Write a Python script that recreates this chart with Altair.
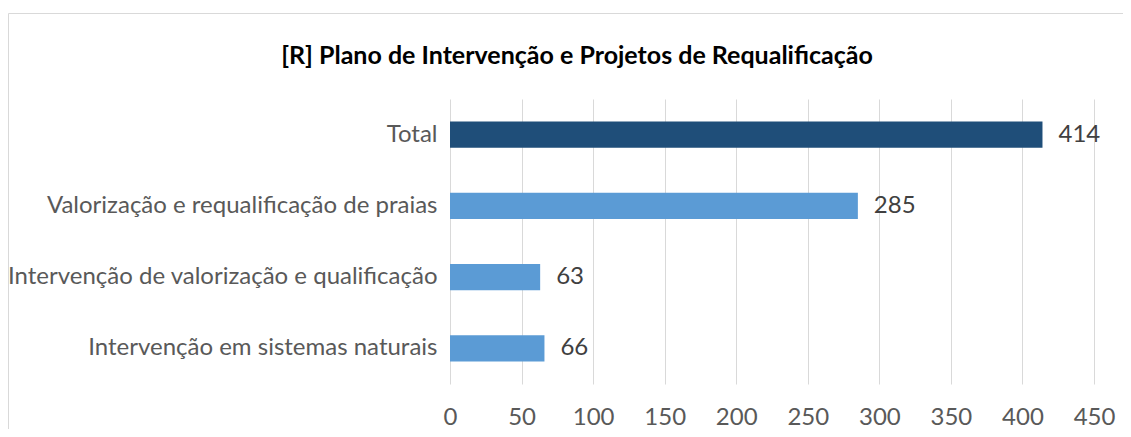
import altair as alt
import pandas as pd

categories = [
    "Total",
    "Valorização e requalificação de praias",
    "Intervenção de valorização e qualificação",
    "Intervenção em sistemas naturais",
]
values = [414, 285, 63, 66]
kinds = ["total", "item", "item", "item"]
x_ticks = [0, 50, 100, 150, 200, 250, 300, 350, 400, 450]

df = pd.DataFrame({"cat": categories, "val": values, "kind": kinds})

FONT = "Lato"

base = alt.Chart(df)

bars = base.mark_bar().encode(
    y=alt.Y(
        "cat:N",
        sort=categories,
        title=None,
        scale=alt.Scale(paddingInner=0.635, paddingOuter=0.3175),
        axis=alt.Axis(
            ticks=False,
            domain=False,
            grid=False,
            labelPadding=13,
            labelFontSize=24,
            labelFont=FONT,
            labelColor="#595959",
            labelLimit=600,
        ),
    ),
    x=alt.X(
        "val:Q",
        title=None,
        scale=alt.Scale(domain=[0, 450], nice=False),
        axis=alt.Axis(
            values=x_ticks,
            ticks=False,
            domain=False,
            grid=True,
            gridColor="#D9D9D9",
            gridWidth=1,
            labelPadding=21,
            labelFlush=False,
            labelFontSize=24,
            labelFont=FONT,
            labelColor="#595959",
        ),
    ),
    color=alt.Color(
        "kind:N",
        scale=alt.Scale(domain=["total", "item"], range=["#1F4E79", "#5B9BD5"]),
        legend=None,
    ),
)

labels = base.mark_text(
    align="left", baseline="middle", dx=16, fontSize=24, font=FONT, color="#404040"
).encode(
    y=alt.Y("cat:N", sort=categories),
    x=alt.X("val:Q"),
    text=alt.Text("val:Q"),
)

frame = alt.Chart(pd.DataFrame({"a": [0]})).mark_rect(
    fill="transparent", stroke="#D9D9D9", strokeWidth=1
).encode(
    x=alt.value(-441.5),
    x2=alt.value(800),
    y=alt.value(-85.5),
    y2=alt.value(500),
)

chart = (
    alt.layer(frame, bars, labels)
    .properties(
        width=644,
        height=285,
        autosize=alt.AutoSizeParams(type="none"),
        padding={"left": 442, "top": 91, "right": 29, "bottom": 45},
        title=alt.TitleParams(
            text="[R] Plano de Intervenção e Projetos de Requalificação",
            font=FONT,
            fontSize=25,
            fontWeight="bold",
            color="#000000",
            anchor="middle",
            frame="group",
            dx=-195,
            offset=0,
            dy=56,
        ),
    )
    .configure_view(stroke=None)
)

chart.save("out.html", embed_options={"renderer": "svg", "actions": False})
